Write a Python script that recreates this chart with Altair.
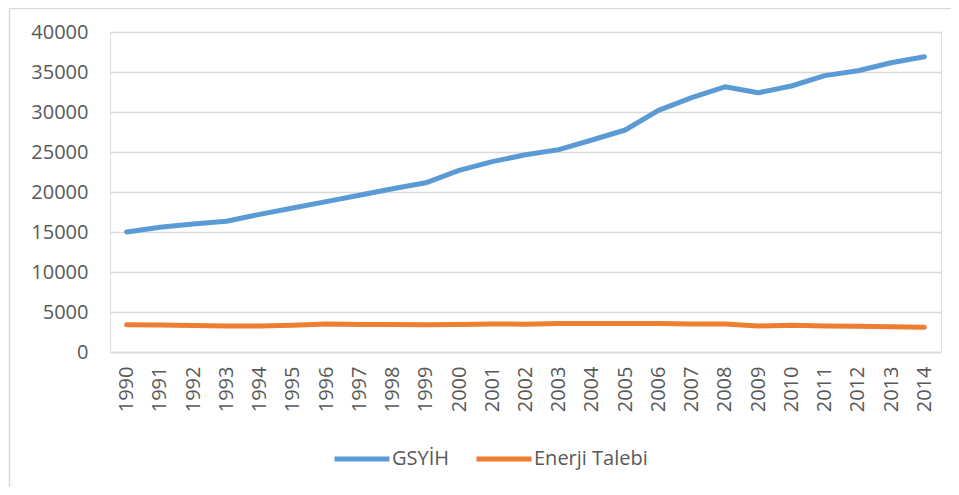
import altair as alt
import pandas as pd

years = [str(y) for y in range(1990, 2015)]
gsyih = [15000, 15600, 16000, 16350, 17200, 18000, 18800, 19600, 20400, 21150,
         22700, 23800, 24650, 25300, 26500, 27750, 30200, 31800, 33150, 32400,
         33250, 34550, 35150, 36150, 36900]
enerji = [3400, 3380, 3300, 3250, 3250, 3350, 3500, 3450, 3450, 3400,
          3430, 3500, 3480, 3550, 3550, 3550, 3550, 3500, 3500, 3250,
          3350, 3250, 3230, 3150, 3100]
series_names = ["GSYİH", "Enerji Talebi"]
series_colors = ["#5B9BD5", "#ED7D31"]
y_ticks = [0, 5000, 10000, 15000, 20000, 25000, 30000, 35000, 40000]

rows = []
for i, yr in enumerate(years):
    rows.append({"Yıl": yr, "Seri": series_names[0], "Değer": gsyih[i], "o": 0})
    rows.append({"Yıl": yr, "Seri": series_names[1], "Değer": enerji[i], "o": 1})
df = pd.DataFrame(rows)

FONT = "Open Sans"
GRAY = "#595959"

lines = alt.Chart(df).mark_line(strokeWidth=5, strokeCap="round", strokeJoin="round").encode(
    x=alt.X("Yıl:O", title=None,
            scale=alt.Scale(type="point", padding=0.5),
            axis=alt.Axis(labelAngle=-90, labelFontSize=20, labelFont=FONT, labelColor=GRAY,
                          labelPadding=14, ticks=False, domain=True, domainColor="#d9d9d9",
                          domainWidth=1.5, grid=False)),
    y=alt.Y("Değer:Q", title=None,
            scale=alt.Scale(domain=[0, 40000], nice=False),
            axis=alt.Axis(values=y_ticks, labelFontSize=20, labelFont=FONT, labelColor=GRAY,
                          labelPadding=22, ticks=False, domain=False, grid=True,
                          gridColor="#d9d9d9", gridWidth=1.5, format="d")),
    color=alt.Color("Seri:N", sort=series_names,
                    scale=alt.Scale(domain=series_names, range=series_colors),
                    legend=alt.Legend(orient="none", direction="horizontal", title=None,
                                      legendX=222, legendY=397,
                                      symbolType="stroke", symbolSize=3025,
                                      symbolStrokeWidth=5, labelFontSize=20,
                                      labelFont=FONT, labelColor=GRAY, labelOffset=0,
                                      columnPadding=16, padding=0)),
    order=alt.Order("o:Q"),
)

border_df = pd.DataFrame({"k": [0]})
border = alt.Chart(border_df).mark_rect(fill=None, stroke="#d9d9d9", strokeWidth=1.5).encode(
    x=alt.value(-100.5), x2=alt.value(900), y=alt.value(-23.5), y2=alt.value(462)
)

chart = alt.layer(border, lines).properties(
    width=831, height=320,
    autosize=alt.AutoSizeParams(type="none"),
    padding={"left": 102, "top": 24, "right": 10, "bottom": 135},
).configure_view(stroke=None).configure(background="white")

chart.save("out.html", embed_options={"renderer": "svg", "actions": False})
